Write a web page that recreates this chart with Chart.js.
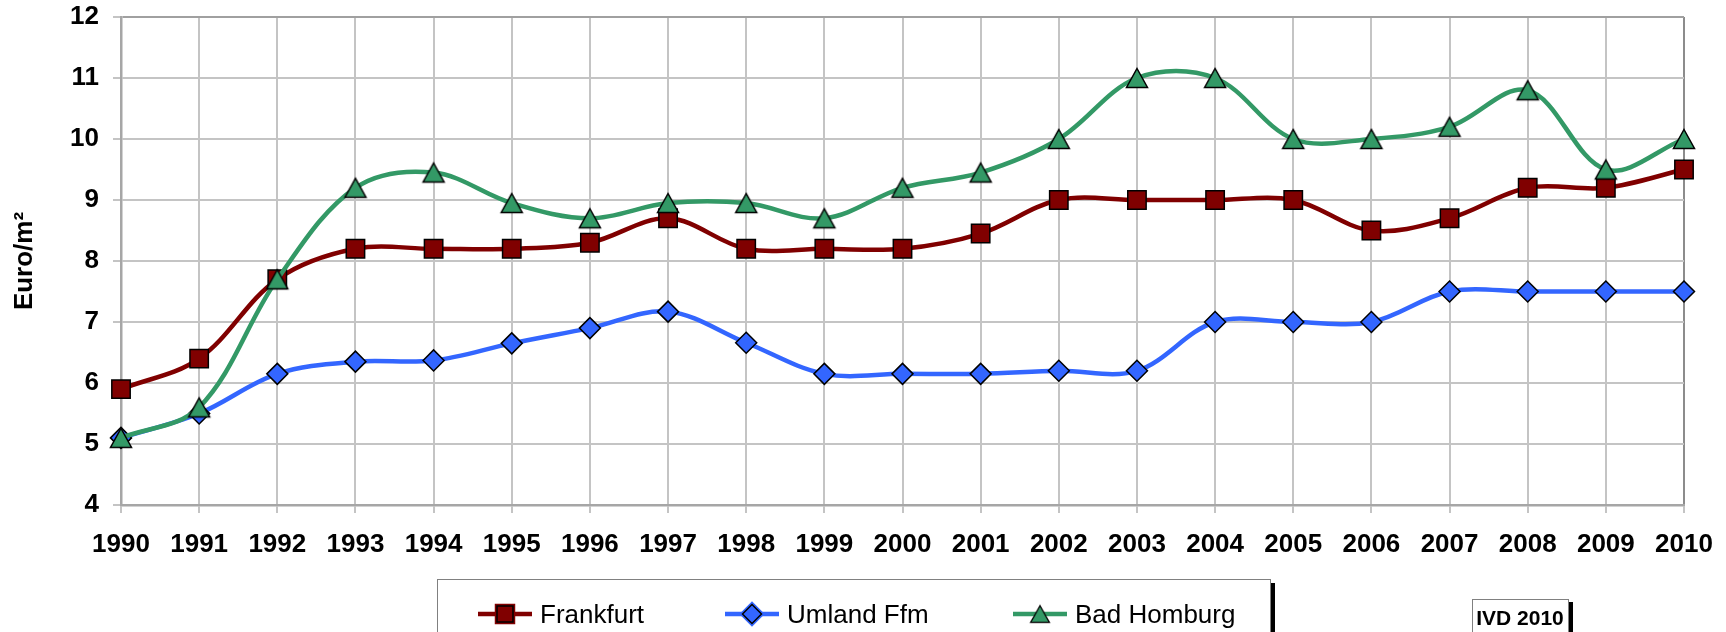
<!DOCTYPE html>
<html>
<head>
<meta charset="utf-8">
<script src="https://cdn.jsdelivr.net/npm/chart.js@4/dist/chart.umd.min.js"></script>
<style>
  html, body { margin: 0; padding: 0; background: #fff; }
  #wrap { position: relative; width: 1726px; height: 632px; }
</style>
</head>
<body>
<div id="wrap"><canvas id="rentChart" width="1726" height="632"></canvas></div>
<script>
// Mieten Euro/m² 1990-2010
const years = ['1990', '1991', '1992', '1993', '1994', '1995', '1996', '1997', '1998', '1999', '2000',
  '2001', '2002', '2003', '2004', '2005', '2006', '2007', '2008', '2009', '2010'];
const frankfurt = [5.9, 6.4, 7.7, 8.2, 8.2, 8.2, 8.3, 8.7, 8.2, 8.2, 8.2, 8.45, 9.0, 9.0, 9.0, 9.0, 8.5, 8.7, 9.2, 9.2, 9.5];
const umland = [5.1, 5.5, 6.15, 6.35, 6.37, 6.65, 6.9, 7.17, 6.66, 6.15, 6.15, 6.15, 6.2, 6.2, 7.0, 7.0, 7.0, 7.5, 7.5, 7.5, 7.5];
const badHomburg = [5.1, 5.6, 7.7, 9.2, 9.45, 8.95, 8.7, 8.95, 8.95, 8.7, 9.2, 9.45, 10.0, 11.0, 11.0, 10.0, 10.0, 10.2, 10.8, 9.5, 10.0];
const yTicks = [4, 5, 6, 7, 8, 9, 10, 11, 12];

const FONT = "'Liberation Sans', Arial, sans-serif";

// triangle marker, centred on its bounding box like the original
function makeTriangle(fill) {
  const c = document.createElement('canvas');
  c.width = 26; c.height = 24;
  const g = c.getContext('2d');
  g.beginPath();
  g.moveTo(13, 2.5);
  g.lineTo(23.5, 21.5);
  g.lineTo(2.5, 21.5);
  g.closePath();
  g.fillStyle = fill;
  g.fill();
  g.lineWidth = 1.5;
  g.strokeStyle = '#000';
  g.stroke();
  return c;
}
const triangle = makeTriangle('#339966');

// legend box + IVD stamp drawn below the axis
const legendBox = {
  id: 'legendBox',
  afterDraw(chart) {
    const ctx = chart.ctx;
    ctx.save();
    ctx.strokeStyle = '#808080';
    ctx.lineWidth = 1;
    ctx.strokeRect(437.5, 579.5, 833, 70);
    ctx.fillStyle = '#000';
    ctx.fillRect(1271, 583, 4, 60);

    const starts = [478, 725, 1013];
    const markerR = [11.3, 9.5];
    const yc = 614;
    chart.data.datasets.forEach((ds, i) => {
      const x0 = starts[i];
      const mx = x0 + 27;
      ctx.strokeStyle = ds.borderColor;
      ctx.lineWidth = 4.5;
      ctx.beginPath();
      ctx.moveTo(x0, yc);
      ctx.lineTo(x0 + 54, yc);
      ctx.stroke();
      if (ds.pointStyle instanceof HTMLCanvasElement) {
        ctx.drawImage(ds.pointStyle, mx - 11.5, yc - 10.5, 23, 21);
      } else {
        Chart.helpers.drawPoint(ctx, {
          pointStyle: ds.pointStyle,
          radius: markerR[i],
          borderWidth: ds.pointBorderWidth,
          rotation: 0
        }, mx, yc);
        ctx.fillStyle = ds.pointBackgroundColor;
        ctx.strokeStyle = '#000';
        ctx.lineWidth = ds.pointBorderWidth;
        ctx.fill();
        ctx.stroke();
      }
      ctx.fillStyle = '#000';
      ctx.font = '26px ' + FONT;
      ctx.textBaseline = 'middle';
      ctx.textAlign = 'left';
      ctx.fillText(ds.label, x0 + 62, yc + 2);
    });

    ctx.strokeStyle = '#808080';
    ctx.lineWidth = 1;
    ctx.strokeRect(1472.5, 599.5, 96, 50);
    ctx.fillStyle = '#000';
    ctx.fillRect(1569, 602, 4, 40);
    ctx.font = 'bold 21px ' + FONT;
    ctx.textAlign = 'center';
    ctx.textBaseline = 'middle';
    ctx.fillText('IVD 2010', 1520, 619);
    ctx.restore();
  }
};

const gridColor = '#c4c4c4';

new Chart(document.getElementById('rentChart'), {
  type: 'line',
  data: {
    labels: years,
    datasets: [
      {
        label: 'Frankfurt',
        data: frankfurt,
        borderColor: '#800000',
        borderWidth: 4.5,
        pointStyle: 'rect',
        pointRadius: 13,
        pointBackgroundColor: '#800000',
        pointBorderColor: '#000',
        pointBorderWidth: 1.5,
        tension: 0.35,
        order: 3
      },
      {
        label: 'Umland Ffm',
        data: umland,
        borderColor: '#3366ff',
        borderWidth: 4.5,
        pointStyle: 'rectRot',
        pointRadius: 10.5,
        pointBackgroundColor: '#3366ff',
        pointBorderColor: '#000',
        pointBorderWidth: 1.5,
        tension: 0.35,
        order: 2
      },
      {
        label: 'Bad Homburg',
        data: badHomburg,
        borderColor: '#339966',
        borderWidth: 4.5,
        pointStyle: triangle,
        pointRadius: 12,
        pointBackgroundColor: '#339966',
        pointBorderColor: '#000',
        pointBorderWidth: 1.5,
        tension: 0.35,
        order: 1
      }
    ]
  },
  options: {
    responsive: false,
    animation: false,
    layout: { padding: { top: 17, right: 42, left: 0, bottom: 0 } },
    plugins: {
      legend: { display: false },
      tooltip: { enabled: false }
    },
    scales: {
      x: {
        offset: false,
        grid: {
          color: (c) => c.index === years.length - 1 ? '#8c8c8c' : gridColor,
          lineWidth: 2,
          tickLength: 8,
          tickColor: gridColor
        },
        border: { color: '#a6a6a6', width: 2.5 },
        ticks: {
          color: '#000',
          padding: 16,
          maxRotation: 0,
          autoSkip: false,
          font: { family: FONT, size: 26, weight: 'bold' }
        },
        afterFit(scale) {
          scale.height = 127;
          scale.paddingLeft = 0;
          scale.paddingRight = 0;
        }
      },
      y: {
        min: 4,
        max: 12,
        afterBuildTicks(scale) { scale.ticks = yTicks.map(v => ({ value: v })); },
        grid: {
          color: (c) => c.tick && c.tick.value === 12 ? '#a0a0a0' : gridColor,
          lineWidth: 2,
          tickLength: 8,
          tickColor: gridColor
        },
        border: { color: '#a6a6a6', width: 2.5 },
        ticks: {
          color: '#000',
          padding: 14,
          font: { family: FONT, size: 26, weight: 'bold' }
        },
        title: {
          display: true,
          text: 'Euro/m²',
          color: '#000',
          padding: { top: 9, bottom: 0 },
          font: { family: FONT, size: 26, weight: 'bold', lineHeight: 1.2 }
        },
        afterFit(scale) {
          scale.width = 121;
          scale.paddingTop = 0;
          scale.paddingBottom = 0;
        }
      }
    }
  },
  plugins: [legendBox]
});
</script>
</body>
</html>
